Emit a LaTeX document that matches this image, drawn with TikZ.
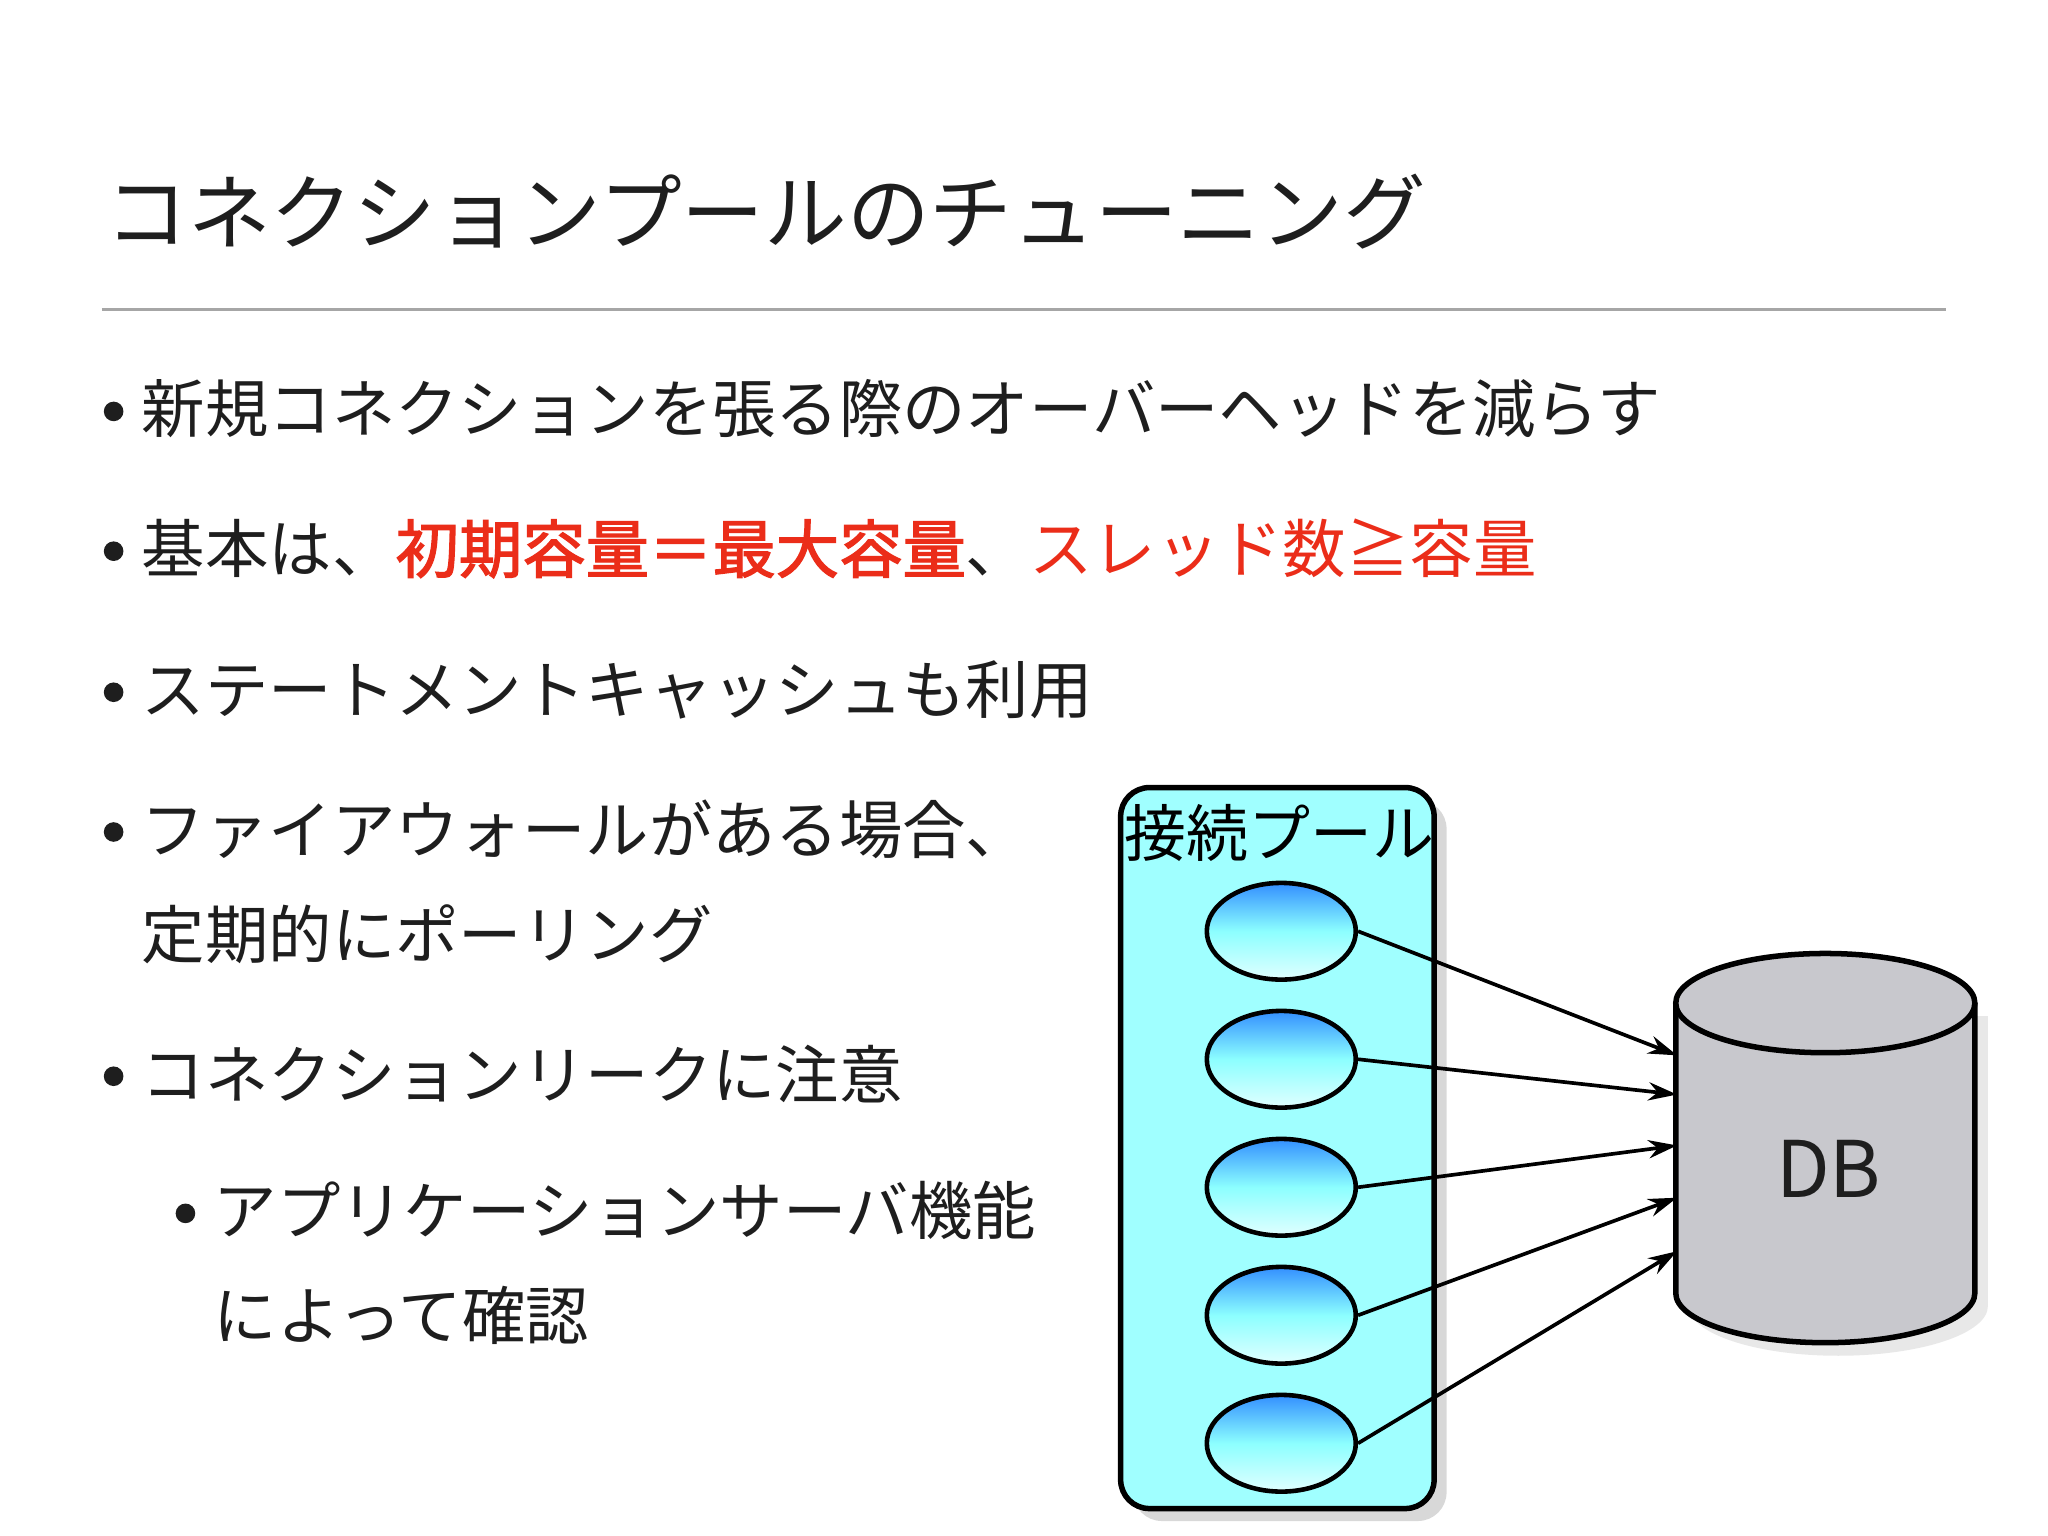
\documentclass[tikz,border=0pt]{standalone}
\usepackage{fontspec}
\setmainfont{Noto Sans CJK JP}
\newfontfamily\jpb[FakeBold=2]{Noto Sans CJK JP}
\usetikzlibrary{shapes.geometric,arrows.meta,shadows}
\definecolor{txt}{RGB}{30,30,30}
\definecolor{hot}{RGB}{235,45,25}
\definecolor{poolc}{RGB}{160,255,255}
\definecolor{dbc}{RGB}{200,200,205}
\tikzset{
 bul/.style={anchor=west,font=\fontsize{13.8pt}{16pt}\selectfont,text=txt,inner sep=0},
 dot/.style={circle,fill=txt,inner sep=0,minimum size=0.15cm},
 conn/.style={ellipse,draw=black,line width=1pt,minimum width=1.14cm,minimum height=0.74cm,top color=blue!55!cyan!80,bottom color=cyan!12,middle color=cyan!45},
 arr/.style={-{Stealth[length=0.22cm,width=0.14cm]},line width=0.8pt}
}
\begin{document}
\begin{tikzpicture}[x=0.01cm,y=-0.01cm]
\useasboundingbox[fill=white] (0,0) rectangle (1568,1176);
\node[anchor=west,inner sep=0,font=\fontsize{18pt}{20pt}\selectfont,text=txt] (title) at (80,162) {コネクションプールのチューニング};
\draw[gray!70,line width=0.8pt] (78,237) -- (1490,237);
\node[dot] (d1) at (87,315) {};
\node[bul] (b1) at (108,313) {新規コネクションを張る際のオーバーヘッドを減らす};
\node[dot] (d2) at (87,422) {};
\node[bul] (b2) at (108,420) {基本は、{\jpb\color{hot}初期容量＝最大容量}、{\color{hot}スレッド数≧容量}};
\node[dot] (d3) at (87,530) {};
\node[bul] (b3) at (108,528) {ステートメントキャッシュも利用};
\node[dot] (d4) at (87,637) {};
\node[bul] (b4) at (108,635) {ファイアウォールがある場合、};
\node[bul] (b4b) at (108,715) {定期的にポーリング};
\node[dot] (d5) at (87,824) {};
\node[bul] (b5) at (108,822) {コネクションリークに注意};
\node[dot] (d6) at (142,929) {};
\node[bul] (b6) at (163,927) {アプリケーションサーバ機能};
\node[bul] (b6b) at (163,1007) {によって確認};
% pool
\draw[fill=poolc,line width=1.2pt,rounded corners=0.22cm,drop shadow={opacity=0.3}] (858,603) rectangle (1098,1155);
\node[anchor=west,inner sep=0,font=\fontsize{13.5pt}{15pt}\selectfont] (pl) at (860,638) {接続プール};
\foreach \i/\yy in {1/713,2/811,3/909,4/1007,5/1105}{
 \node[conn] (c\i) at (981,\yy) {};
}
% DB
\fill[black!15,opacity=0.6] (1293,778) -- (1293,1000) arc[start angle=180,end angle=360,x radius=114.5,y radius=-38] -- (1522,778) -- cycle;
\draw[fill=dbc,line width=1.2pt] (1283,768) -- (1283,990) arc[start angle=180,end angle=360,x radius=114.5,y radius=-38] -- (1512,768);
\draw[fill=dbc,line width=1.2pt] (1397.5,768) ellipse[x radius=114.5,y radius=38];
\node[font=\fontsize{17pt}{18pt}\selectfont,text=txt] (db) at (1400,895) {DB};
\coordinate (t1) at (1284,808);
\coordinate (t2) at (1284,838);
\coordinate (t3) at (1284,877);
\coordinate (t4) at (1284,917);
\coordinate (t5) at (1284,958);
\draw[arr] (c1.east) -- (t1);
\draw[arr] (c2.east) -- (t2);
\draw[arr] (c3.east) -- (t3);
\draw[arr] (c4.east) -- (t4);
\draw[arr] (c5.east) -- (t5);
\end{tikzpicture}
\end{document}
